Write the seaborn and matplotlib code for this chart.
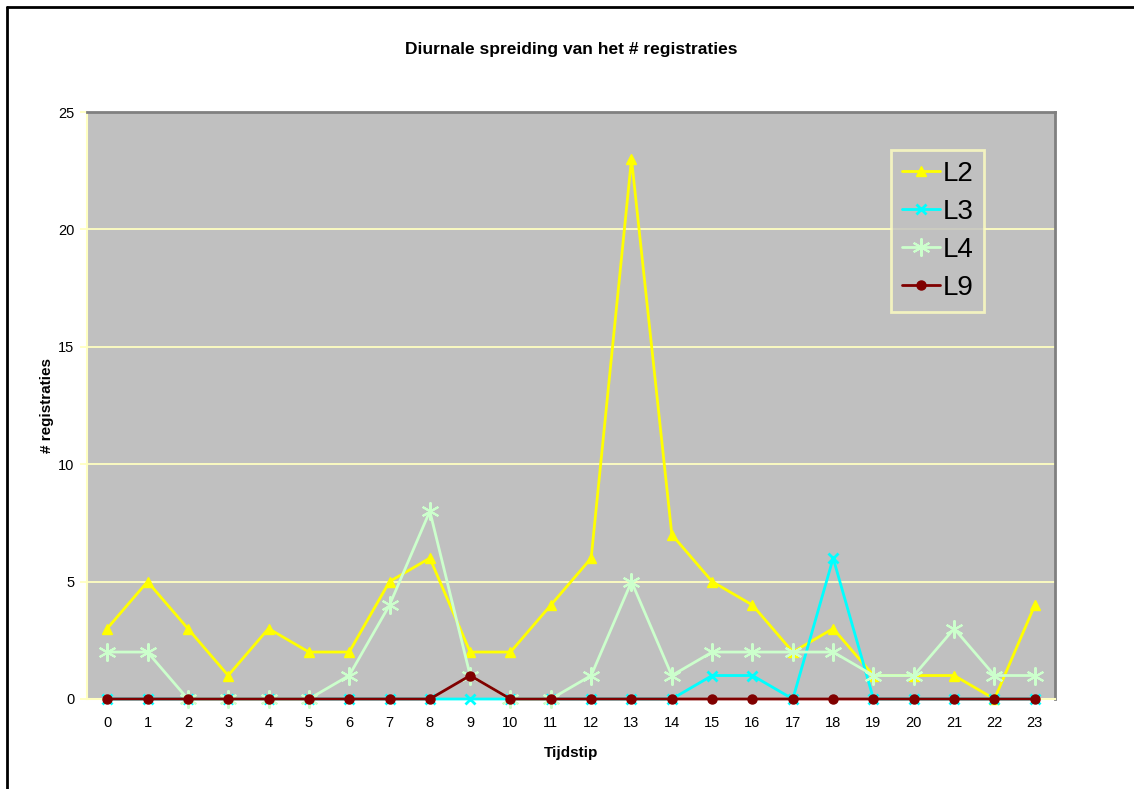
import matplotlib
matplotlib.use("Agg")
import matplotlib.pyplot as plt
from matplotlib.lines import Line2D
import seaborn as sns
import pandas as pd

hours = list(range(24))
l2 = [3, 5, 3, 1, 3, 2, 2, 5, 6, 2, 2, 4, 6, 23, 7, 5, 4, 2, 3, 1, 1, 1, 0, 4]
l3 = [0, 0, 0, 0, 0, 0, 0, 0, 0, 0, 0, 0, 0, 0, 0, 1, 1, 0, 6, 0, 0, 0, 0, 0]
l4 = [2, 2, 0, 0, 0, 0, 1, 4, 8, 1, 0, 0, 1, 5, 1, 2, 2, 2, 2, 1, 1, 3, 1, 1]
l9 = [0, 0, 0, 0, 0, 0, 0, 0, 0, 1, 0, 0, 0, 0, 0, 0, 0, 0, 0, 0, 0, 0, 0, 0]
y_ticks = [0, 5, 10, 15, 20, 25]

series = {"L2": l2, "L3": l3, "L4": l4, "L9": l9}
styles = {
    "L2": dict(color="#FFFF00", marker="^", markersize=7.5, lw=2.0),
    "L3": dict(color="#00FFFF", marker="x", markersize=7, lw=2.0, mew=2),
    "L4": dict(color="#CCFFCC", marker=(6, 2, 0), markersize=13, lw=2.0, mew=1.5),
    "L9": dict(color="#800000", marker="o", markersize=6.5, lw=2.0),
}

sns.set_theme(style="white")
plt.rcParams["font.family"] = ["Liberation Sans", "DejaVu Sans"]
plt.rcParams["text.color"] = "black"
plt.rcParams["axes.labelcolor"] = "black"
plt.rcParams["xtick.color"] = "black"
plt.rcParams["ytick.color"] = "black"

fig = plt.figure(figsize=(11.34, 7.89), dpi=100)
ax = fig.add_axes([87 / 1134, 1 - 699 / 789, (1055 - 87) / 1134, (699 - 112) / 789])
ax.set_facecolor("#C0C0C0")

grid_col = "#FFFFC0"
for v in y_ticks[1:-1]:
    ax.axhline(v, color=grid_col, lw=1.3, zorder=0.5)

for name, vals in series.items():
    df = pd.DataFrame({"uur": hours, "n": vals})
    st = styles[name]
    sns.lineplot(data=df, x="uur", y="n", ax=ax, color=st["color"], lw=st["lw"],
                 marker=st["marker"], markersize=st["markersize"],
                 markeredgecolor=st["color"], markerfacecolor=st["color"],
                 markeredgewidth=st.get("mew", 1), label=name, clip_on=False, zorder=3)

ax.set_xlim(-0.5, 23.5)
ax.set_ylim(0, 25)
ax.set_xticks(hours)
ax.set_xticklabels([str(h) for h in hours], fontsize=10.5)
ax.set_xticks([h - 0.5 for h in hours] + [23.5], minor=True)
ax.set_yticks(y_ticks)
ax.set_yticklabels([str(v) for v in y_ticks], fontsize=10.5)
ax.tick_params(axis="x", which="major", length=0, pad=12, labelcolor="black")
ax.tick_params(axis="x", which="minor", length=5, color=grid_col, width=1.3, direction="out")
ax.tick_params(axis="y", length=5, color=grid_col, width=1.3, pad=4, direction="out",
               left=True, labelcolor="black")

for side in ("left", "bottom"):
    ax.spines[side].set_color(grid_col)
    ax.spines[side].set_linewidth(1.5)
for side in ("top", "right"):
    ax.spines[side].set_color("#808080")
    ax.spines[side].set_linewidth(2)

ax.set_xlabel("Tijdstip", fontsize=11, fontweight="bold", labelpad=12, color="black")
ax.set_ylabel("# registraties", fontsize=11, fontweight="bold", labelpad=3, color="black")
ax.set_title("Diurnale spreiding van het # registraties", fontsize=12.5,
             fontweight="bold", pad=42, color="black")

leg = ax.legend(loc="upper left", bbox_to_anchor=(804 / 968, 1 - 38 / 587),
                fontsize=20, frameon=True, fancybox=False, handlelength=1.35,
                handletextpad=0.1, borderpad=0.4, borderaxespad=0, labelspacing=0.43,
                facecolor="#C0C0C0", edgecolor="#FFFFC0")
leg.get_frame().set_linewidth(2)
for t in leg.get_texts():
    t.set_color("black")

# Outer chart frame (left and top edges)
fig.add_artist(Line2D([7 / 1134, 7 / 1134], [0, 1 - 7 / 789], transform=fig.transFigure,
                      color="black", lw=2))
fig.add_artist(Line2D([7 / 1134, 1], [1 - 7 / 789, 1 - 7 / 789], transform=fig.transFigure,
                      color="black", lw=2))

fig.savefig("out.png", dpi=100)
